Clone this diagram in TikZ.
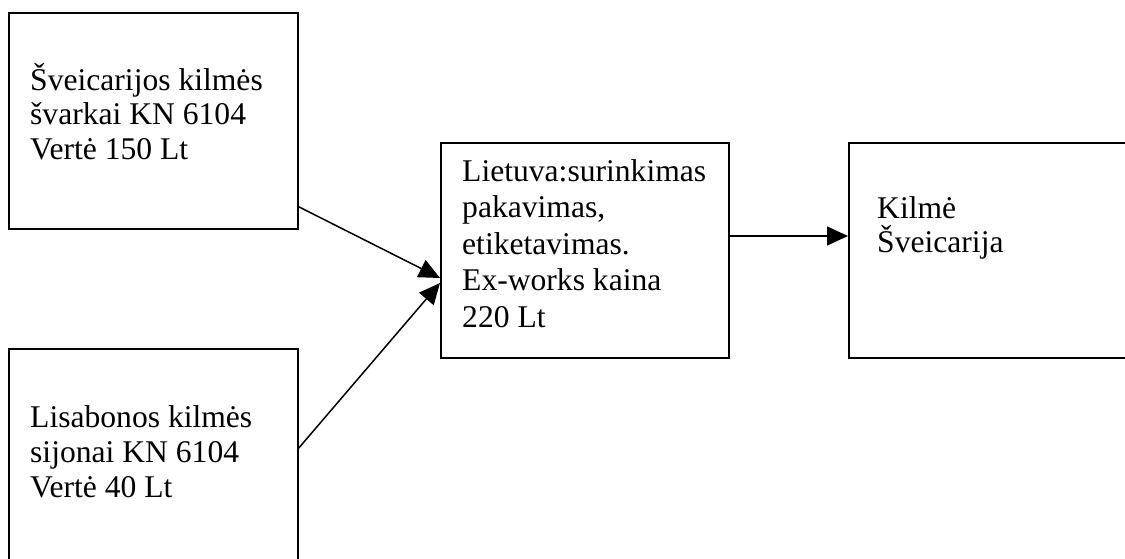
\documentclass[tikz,border=0pt]{standalone}
\usepackage{fontspec}
\setmainfont{Liberation Serif}
\usetikzlibrary{arrows.meta}
\tikzset{
  frame/.style={draw=black, line width=1.8pt, rectangle, inner sep=0pt, anchor=north west},
  label/.style={inner sep=0pt, align=left, anchor=base west, font=\fontsize{31.6}{35}\selectfont},
  flow/.style={line width=1.5pt, -{Triangle[length=21pt,width=19pt]}}
}
\begin{document}
\begin{tikzpicture}[x=1pt, y=-1pt]
  \clip (0,0) rectangle (1125,559);
  % boxes
  \node[frame, minimum width=289pt, minimum height=216pt] (src1) at (8,12) {};
  \node[frame, minimum width=289pt, minimum height=230pt] (src2) at (8,348) {};
  \node[frame, minimum width=288pt, minimum height=215pt] (proc) at (440,142) {};
  \node[frame, minimum width=300pt, minimum height=215pt] (res) at (848,142) {};
  % box texts (anchored at the baseline of their last line)
  \node[label] (t1) at (30,160) {Šveicarijos kilmės\\švarkai KN 6104\\Vertė 150 Lt};
  \node[label] (t2) at (30,497) {Lisabonos kilmės\\sijonai KN 6104\\Vertė 40 Lt};
  \node[label, font=\fontsize{31.6}{36.5}\selectfont] (t3) at (462,327) {Lietuva:surinkimas\\pakavimas,\\etiketavimas.\\Ex-works kaina\\220 Lt};
  \node[label, font=\fontsize{31.6}{34}\selectfont] (t4) at (877,252) {Kilmė\\Šveicarija};
  % connectors
  \draw[flow] ([yshift=23pt]src1.south east) -- ([yshift=-136pt]proc.north west);
  \draw[flow] ([yshift=-100pt]src2.north east) -- ([yshift=-141pt]proc.north west);
  \draw[flow] ([yshift=-94pt]proc.north east) -- ([yshift=-94pt]res.north west);
\end{tikzpicture}
\end{document}
